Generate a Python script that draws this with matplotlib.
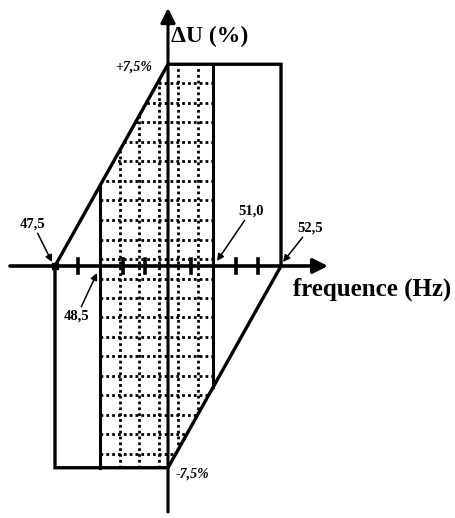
import matplotlib
matplotlib.use("Agg")
import matplotlib.pyplot as plt
from matplotlib.patches import Polygon

# frequency limits (Hz) and voltage limits (%)
f_min, f_max = 47.5, 52.5
f_lo, f_hi = 48.5, 51.0
f_nom = 50.0
du_max = 7.5
tick_f = [48.0, 49.0, 49.5, 50.5, 51.5, 52.0]
grid_f = [48.93, 49.36, 49.8, 50.22, 50.66]
grid_du = [6.79, 6.06, 5.34, 4.61, 3.89, 3.16, 2.44, 1.71, 0.985, 0.26,
           -0.465, -1.19, -1.91, -2.64, -3.36, -4.09, -4.81, -5.54, -6.26, -6.99]

# pixel -> data helpers (reference image is 455 x 518)
def fx(x):
    return f_min + (x - 55) / 45.2

def dy(y):
    return (266 - y) / 26.9

fig = plt.figure(figsize=(4.55, 5.18), dpi=100)
ax = fig.add_axes([0, 0, 1, 1])
ax.set_xlim(fx(0), fx(455))
ax.set_ylim(dy(518), dy(0))
ax.axis("off")

serif = "Liberation Serif"

# dotted grid, clipped to the allowed zone
slope = du_max / (f_nom - f_min)
du_lo = slope * (f_lo - f_min)
du_hi = -slope * (f_max - f_hi)
zone = [(f_lo, du_lo), (f_nom, du_max), (f_hi, du_max), (f_hi, du_hi),
        (f_nom, -du_max), (f_lo, -du_max)]
clip = Polygon(zone, closed=True, fill=False, edgecolor="none")
ax.add_patch(clip)
dots = (0, (1, 1.1))
for g in grid_f:
    ln, = ax.plot([g, g], [-du_max, du_max], color="black", lw=2.0, linestyle=dots,
                  dash_capstyle="butt")
    ln.set_clip_path(clip)
for g in grid_du:
    ln, = ax.plot([f_lo, f_hi], [g, g], color="black", lw=2.0, linestyle=dots,
                  dash_capstyle="butt")
    ln.set_clip_path(clip)

# outline of the characteristic
ax.plot([f_min, f_nom, f_max, f_max], [0, du_max, du_max, 0], color="black", lw=2.4,
        solid_joinstyle="miter")
ax.plot([f_max, f_nom, f_min, f_min], [0, -du_max, -du_max, 0], color="black", lw=2.4,
        solid_joinstyle="miter")
ax.plot([f_lo, f_lo], [du_lo, -du_max], color="black", lw=2.2)
ax.plot([f_hi, f_hi], [du_max, du_hi], color="black", lw=2.2)

# axes with arrows
ax.annotate("", xy=(fx(328), 0), xytext=(fx(10), 0),
            arrowprops=dict(arrowstyle="-|>", lw=2.6, color="black",
                            mutation_scale=22, shrinkA=0, shrinkB=0))
ax.annotate("", xy=(f_nom, dy(8)), xytext=(f_nom, dy(512)),
            arrowprops=dict(arrowstyle="-|>", lw=2.2, color="black",
                            mutation_scale=22, shrinkA=0, shrinkB=0))
for t in tick_f:
    ax.plot([t, t], [-0.25, 0.25], color="black", lw=2.6)
ax.plot([f_min], [0], marker="s", color="black", ms=4)

ax.text(fx(171), dy(36), "ΔU (%)", family=serif, weight="bold", fontsize=17,
        ha="left", va="center")
ax.text(fx(293), dy(289), "frequence (Hz)", family=serif, weight="bold", fontsize=18,
        ha="left", va="center")
ax.text(fx(115), dy(67), "+7,5%", family=serif, weight="bold", style="italic",
        fontsize=10, ha="left", va="center")
ax.text(fx(176), dy(474), "-7,5%", family=serif, weight="bold", style="italic",
        fontsize=10, ha="left", va="center")

arrow = dict(arrowstyle="-|>", lw=1.1, color="black", mutation_scale=10,
             shrinkA=0, shrinkB=0)
ax.annotate("47,5", xy=(fx(52), dy(262)), xytext=(fx(33), dy(224)), family=serif,
            weight="bold", fontsize=10.5, ha="center", va="center", arrowprops=arrow)
ax.annotate("48,5", xy=(fx(97), dy(273)), xytext=(fx(77), dy(316)), family=serif,
            weight="bold", fontsize=10.5, ha="center", va="center", arrowprops=arrow)
ax.annotate("51,0", xy=(fx(217), dy(261)), xytext=(fx(251), dy(211)), family=serif,
            weight="bold", fontsize=10.5, ha="center", va="center", arrowprops=arrow)
ax.annotate("52,5", xy=(fx(283), dy(262)), xytext=(fx(310), dy(228)), family=serif,
            weight="bold", fontsize=10.5, ha="center", va="center", arrowprops=arrow)

fig.savefig("out.png", dpi=100)
